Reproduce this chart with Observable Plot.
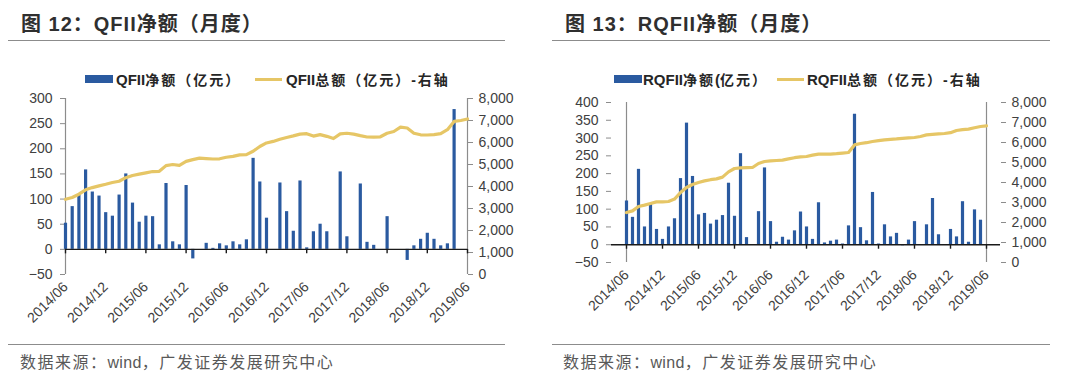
<!DOCTYPE html>
<html><head><meta charset="utf-8">
<script src="https://cdn.jsdelivr.net/npm/d3@7"></script>
<script src="https://cdn.jsdelivr.net/npm/@observablehq/plot@0.6"></script>
<style>
body{margin:0;background:#fff;}
#wrap{position:relative;width:1080px;height:381px;overflow:hidden;font-family:"Liberation Sans",Arial,"Noto Sans CJK SC",sans-serif;}
.panel{position:absolute;top:0;width:540px;height:381px;}
.panel svg{position:absolute;left:0;top:0;overflow:visible;}
.abs{position:absolute;white-space:nowrap;line-height:1;}
.title{font-size:20px;font-weight:bold;color:#2f2f2f;letter-spacing:1px;}
.rule{height:0;border-top:1.5px solid #8c8c8c;}
.leg{font-size:14px;font-weight:bold;color:#262626;letter-spacing:2px;}
.leg .lat{letter-spacing:0;font-size:15px;}
.src{font-size:16px;color:#595959;letter-spacing:1.5px;}
.src .lat{letter-spacing:0.3px;}
</style></head>
<body><div id="wrap"></div>
<script>
const months = ["2014/06","2014/07","2014/08","2014/09","2014/10","2014/11","2014/12",
"2015/01","2015/02","2015/03","2015/04","2015/05","2015/06","2015/07","2015/08","2015/09","2015/10","2015/11","2015/12",
"2016/01","2016/02","2016/03","2016/04","2016/05","2016/06","2016/07","2016/08","2016/09","2016/10","2016/11","2016/12",
"2017/01","2017/02","2017/03","2017/04","2017/05","2017/06","2017/07","2017/08","2017/09","2017/10","2017/11","2017/12",
"2018/01","2018/02","2018/03","2018/04","2018/05","2018/06","2018/07","2018/08","2018/09","2018/10","2018/11","2018/12",
"2019/01","2019/02","2019/03","2019/04","2019/05","2019/06"];
const tickLabels = ["2014/06","2014/12","2015/06","2015/12","2016/06","2016/12","2017/06","2017/12","2018/06","2018/12","2019/06"];

// QFII net (亿元, left axis) and total (亿元, right axis)
const qfiiNet = [52,85,108,158,114,106,73,66,108,150,
  92,54,66,65,9,131,15,9,127,-19,
  0,12,2,11,7,15,9,19,181,134,
  62,0,132,75,36,136,3,35,50,35,
  0,154,25,0,130,14,8,0,65,0,
  0,-22,7,20,32,20,7,11,278,0,
  0];
const qfiiTotal = [3420,3500,3650,3850,3950,4030,4100,4180,4240,4400,
  4500,4560,4620,4680,4690,4950,5000,4960,5140,5220,
  5290,5270,5250,5260,5330,5370,5440,5450,5600,5820,
  5980,6050,6150,6230,6300,6380,6400,6290,6360,6280,
  6180,6390,6420,6380,6310,6250,6240,6260,6420,6500,
  6700,6660,6420,6350,6340,6360,6400,6580,6960,7000,
  7070];
// RQFII net and total
const rqfiiNet = [123,77,212,50,113,43,15,50,73,186,
  342,192,84,88,58,69,82,173,80,256,
  20,0,93,216,65,7,21,13,39,92,
  50,15,118,5,10,13,2,53,367,48,
  11,147,2,56,22,32,-3,13,65,0,
  56,130,28,0,43,22,121,7,98,69,
  0];
const rqfiiTotal = [2500,2580,2800,2870,2950,3030,3030,3050,3170,3500,
  3750,3900,4000,4080,4140,4180,4270,4530,4700,4730,
  4740,4750,4950,5050,5080,5100,5120,5180,5240,5280,
  5300,5370,5420,5420,5420,5440,5470,5500,5880,5950,
  5990,6050,6090,6130,6160,6180,6210,6230,6250,6300,
  6380,6410,6430,6450,6490,6600,6640,6670,6740,6800,
  6830];

const leftTicksA = [-50,0,50,100,150,200,250,300];
const leftTicksB = [-50,0,50,100,150,200,250,300,350,400];
const rightTicks = [0,1000,2000,3000,4000,5000,6000,7000,8000];

const blue = "#2a5aa0", gold = "#e6c666";
const fontFamily = '"Liberation Sans",Arial,"Noto Sans CJK SC",sans-serif';

function el(parent, cls, html, css) {
  const d = document.createElement("div");
  d.className = "abs " + cls;
  if (html) d.innerHTML = html;
  Object.assign(d.style, css);
  parent.appendChild(d);
  return d;
}

function panel(o) {
  const div = document.createElement("div");
  div.className = "panel";
  div.style.left = o.left + "px";
  document.getElementById("wrap").appendChild(div);
  const data = months.map((m, i) => ({month: m, net: o.net[i], total: o.total[i]}));
  const [y0, y1] = o.yDomain;
  const toL = v => y0 + v / 8000 * (y1 - y0);
  const fromL = v => (v - y0) / (y1 - y0) * 8000;
  const plotH = 381 - o.mt - o.mb;
  const tickLen = 4.5 * (y1 - y0) / plotH;
  const chart = Plot.plot({
    width: 540, height: 381,
    marginTop: o.mt, marginBottom: o.mb, marginLeft: o.ml, marginRight: o.mr,
    style: {fontFamily, fontSize: "14px", color: "#404040", background: "transparent", overflow: "visible"},
    x: {type: "point", domain: months, padding: 0},
    y: {domain: o.yDomain},
    marks: [
      Plot.ruleX([months[0]], {stroke: "#8c8c8c", strokeWidth: 1.2}),
      Plot.ruleX([months[months.length - 1]], {stroke: "#8c8c8c", strokeWidth: 1.2}),
      Plot.axisY({ticks: o.yTicks, tickSize: 5, tickPadding: 8, stroke: "#8c8c8c", fill: "#404040", label: null}),
      Plot.axisY({anchor: "right", ticks: rightTicks.map(toL), tickFormat: d => d3.format(",")(Math.round(fromL(d))),
        tickSize: 5, tickPadding: 6, stroke: "#8c8c8c", fill: "#404040", label: null}),
      Plot.axisX({ticks: tickLabels, tickSize: 0, tickRotate: -45, tickPadding: 10, fill: "#404040", label: null}),
      Plot.ruleX(data, {x: "month", y1: 0, y2: "net", stroke: blue, strokeWidth: 3.2}),
      Plot.line(data, {x: "month", y: d => toL(d.total), stroke: gold, strokeWidth: 3.2}),
      Plot.ruleY([0], {stroke: "#1a1a1a", strokeWidth: 1.4}),
      Plot.ruleX(tickLabels, {x: d => d, y1: 0, y2: -tickLen, stroke: "#1a1a1a", strokeWidth: 1.4})
    ]
  });
  div.appendChild(chart);
  el(div, "title", o.title, {left: o.titleX + "px", top: "14px"});
  el(div, "rule", "", {left: o.ruleX + "px", top: "40px", width: o.ruleW + "px"});
  el(div, "", "", {left: o.legRect + "px", top: "75px", width: "28px", height: "8px", background: blue});
  el(div, "leg", o.leg1, {left: o.leg1X + "px", top: "72px"});
  el(div, "", "", {left: o.legLine + "px", top: "77.5px", width: "27px", height: "3px", background: gold});
  el(div, "leg", o.leg2, {left: o.leg2X + "px", top: "72px"});
  el(div, "rule", "", {left: o.ruleX + "px", top: "344px", width: o.ruleW + "px"});
  el(div, "src", '数据来源：<span class="lat">wind</span>，广发证券发展研究中心', {left: o.srcX + "px", top: "355px"});
}

panel({left: 0, net: qfiiNet, total: qfiiTotal, yDomain: [-50, 300], yTicks: leftTicksA,
  mt: 98, mb: 107, ml: 65, mr: 73,
  title: "图 12：QFII净额（月度）", titleX: 21, ruleX: 8, ruleW: 497,
  legRect: 85, leg1: '<span class="lat">QFII</span>净额（亿元）', leg1X: 116, legLine: 255,
  leg2: '<span class="lat">QFII</span>总额（亿元）-右轴', leg2X: 286, srcX: 20});
panel({left: 540, net: rqfiiNet, total: rqfiiTotal, yDomain: [-50, 400], yTicks: leftTicksB,
  mt: 102, mb: 119, ml: 71, mr: 80,
  title: "图 13：RQFII净额（月度）", titleX: 25, ruleX: 12, ruleW: 498,
  legRect: 74, leg1: '<span class="lat">RQFII</span>净额<span class="lat">(</span>亿元）', leg1X: 103, legLine: 237,
  leg2: '<span class="lat">RQFII</span>总额（亿元）-右轴', leg2X: 267, srcX: 23});
</script>
</body></html>
